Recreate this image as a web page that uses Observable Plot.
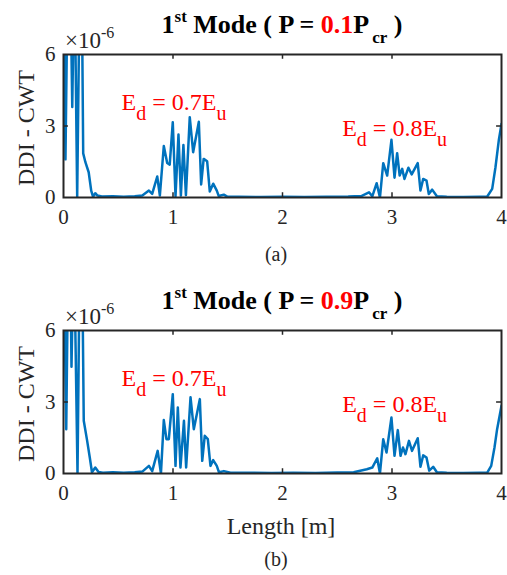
<!DOCTYPE html>
<html>
<head>
<meta charset="utf-8">
<script src="https://cdn.jsdelivr.net/npm/d3@7"></script>
<script src="https://cdn.jsdelivr.net/npm/@observablehq/plot@0.6"></script>
<style>
  html, body { margin: 0; padding: 0; background: #fff; overflow: hidden; }
  #root { position: relative; width: 507px; height: 575px; background: #fff;
          font-family: "Liberation Serif", "Times New Roman", serif; color: #262626; }
  .abs { position: absolute; line-height: 1; white-space: nowrap; }
  .center { text-align: center; width: 400px; }
  .title { font-size: 26px; font-weight: bold; color: #000; }
  .sup { position: relative; font-size: 17px; top: -11px; }
  .sub { position: relative; font-size: 17px; top: 10px; margin-left: 3px; }
  .exp { position: relative; font-size: 16px; top: -10px; }
  .ylab { font-size: 24px; width: 200px; height: 24px; text-align: center; transform: rotate(-90deg); }
  .panel { position: absolute; left: 0; }
  .panel svg, .panel svg text { font-family: "Liberation Serif", "Times New Roman", serif; }
</style>
</head>
<body>
<div id="root">
  <div class="abs center title" style="left:82px; top:12.2px;">1<span class="sup">st</span> Mode ( P = <span style="color:#ff0000">0.1</span>P<span class="sub">cr</span> )</div>
  <div class="abs center title" style="left:82px; top:288.2px;">1<span class="sup">st</span> Mode ( P = <span style="color:#ff0000">0.9</span>P<span class="sub">cr</span> )</div>
  <div class="abs" style="left:65px; top:28.7px; font-size:23px;">×10<span class="exp">-6</span></div>
  <div class="abs" style="left:65px; top:304.7px; font-size:23px;">×10<span class="exp">-6</span></div>
  <div class="abs ylab" style="left:-74px; top:115.5px;">DDI - CWT</div>
  <div class="abs ylab" style="left:-74px; top:391.5px;">DDI - CWT</div>
  <div class="abs center" style="left:76px; top:244.3px; font-size:20px;">(a)</div>
  <div class="abs center" style="left:81px; top:513.9px; font-size:24px;">Length [m]</div>
  <div class="abs center" style="left:76px; top:549.3px; font-size:20px;">(b)</div>
  <div id="pa" class="panel" style="top:40px;"></div>
  <div id="pb" class="panel" style="top:316px;"></div>
</div>
<script>
// ---- data (DDI-CWT values in units of 1e-6; values above 6 are clipped by the axis) ----
const xTicks = [0, 1, 2, 3, 4];
const yTicks = [0, 3, 6];
const innerXTicks = [1, 2, 3];
const innerYTicks = [3];

// Panel (a): P = 0.1 Pcr, [length m, DDI]
const ddiA = [
  [0,10],[0.018,1.6],[0.04,10],[0.06,10],[0.08,3.8],[0.10,10],[0.125,0],[0.15,10],[0.165,10],
  [0.18,1.85],[0.2,1.48],[0.23,1.06],[0.253,0.29],[0.27,0.03],[0.29,0.18],[0.31,0.08],[0.35,0.04],
  [0.45,0.05],[0.55,0.03],[0.65,0.05],[0.72,0.08],[0.78,0.29],[0.81,0.15],[0.856,0.88],[0.88,0.08],
  [0.916,2.16],[0.947,1.45],[0.97,1.38],[0.998,3.16],[1.023,0.05],[1.05,2.64],[1.072,0.08],
  [1.095,2.2],[1.118,0.1],[1.153,3.37],[1.184,1.9],[1.236,3.18],[1.257,0.55],[1.28,1.62],
  [1.312,1.52],[1.336,0.25],[1.367,0.58],[1.40,0.29],[1.418,0.06],[1.464,0.12],[1.495,0.04],
  [1.6,0.03],[1.8,0.02],[2.0,0.03],[2.2,0.02],[2.4,0.03],[2.6,0.04],[2.72,0.06],[2.79,0.22],
  [2.82,0.05],[2.86,0.6],[2.89,0.0],[2.92,1.44],[2.956,0.92],[2.995,2.42],[3.023,0.83],
  [3.047,1.86],[3.07,0.92],[3.093,1.2],[3.114,0.78],[3.15,1.25],[3.18,0.97],[3.235,1.44],
  [3.26,0.29],[3.285,0.78],[3.315,0.71],[3.336,0.15],[3.367,0.33],[3.41,0.05],[3.5,0.03],
  [3.65,0.02],[3.8,0.03],[3.87,0.04],[3.915,0.36],[3.945,1.27],[3.975,2.39],[4.0,3.09]
];

// Panel (b): P = 0.9 Pcr, [length m, DDI]
const ddiB = [
  [0,10],[0.025,1.86],[0.045,10],[0.06,10],[0.073,4.48],[0.095,10],[0.128,0],[0.15,10],[0.168,10],
  [0.185,2.21],[0.215,1.4],[0.24,0.67],[0.26,0.05],[0.29,0.25],[0.32,0.06],[0.36,0.03],
  [0.45,0.05],[0.55,0.03],[0.65,0.05],[0.72,0.08],[0.78,0.32],[0.81,0.1],[0.86,0.95],[0.89,0],
  [0.916,2.24],[0.94,1.44],[0.962,1.44],[0.998,3.33],[1.023,0.32],[1.044,2.77],[1.068,0.25],
  [1.1,2.21],[1.12,0.25],[1.16,3.2],[1.19,1.86],[1.245,3.12],[1.267,0.53],[1.29,1.58],
  [1.318,1.44],[1.342,0.32],[1.367,0.56],[1.4,0.32],[1.42,0.05],[1.465,0.1],[1.525,0.03],
  [1.7,0.03],[1.9,0.02],[2.1,0.03],[2.3,0.02],[2.5,0.04],[2.65,0.05],[2.77,0.18],[2.82,0.25],
  [2.865,0.64],[2.89,0],[2.92,1.44],[2.95,0.88],[2.995,2.35],[3.023,0.74],[3.053,1.82],
  [3.078,0.74],[3.1,1.09],[3.123,0.81],[3.155,1.37],[3.183,0.95],[3.235,1.48],[3.26,0.28],
  [3.285,0.76],[3.315,0.67],[3.34,0.12],[3.376,0.28],[3.41,0.05],[3.5,0.03],[3.65,0.02],
  [3.8,0.03],[3.87,0.04],[3.906,0.32],[3.936,1.09],[3.96,1.86],[4.0,2.84]
];

// Damage annotations
const annotLabels = ["E_d = 0.7E_u", "E_d = 0.8E_u"];
const annotX = [0.53, 2.545];
const annotY = [3.69, 2.6];
const annots = annotLabels.map((t, i) => ({x: annotX[i], y: annotY[i], t}));

const SERIF = "'Liberation Serif', 'Times New Roman', serif";
const NS = "http://www.w3.org/2000/svg";
function richify(svg) {
  svg.querySelectorAll("text").forEach(t => {
    t.style.fontFamily = SERIF;
    const s = t.textContent;
    if (!s.includes("_")) return;
    t.textContent = "";
    const parts = s.split(/_(\w)/);
    parts.forEach((p, i) => {
      if (!p) return;
      const ts = document.createElementNS(NS, "tspan");
      ts.textContent = p;
      if (i % 2 === 1) { ts.setAttribute("dy", 10); ts.setAttribute("font-size", 20); }
      else if (i > 0) ts.setAttribute("dy", -10);
      t.appendChild(ts);
    });
  });
}

function panel(data) {
  const axisColor = "#262626";
  const svg = Plot.plot({
    width: 507, height: 190,
    marginTop: 14, marginBottom: 33, marginLeft: 63, marginRight: 6,
    x: {domain: [0, 4], ticks: xTicks, tickFormat: d => String(d), tickSize: 0, tickPadding: 12, label: null},
    y: {domain: [0, 6], ticks: yTicks, tickFormat: d => String(d), tickSize: 0, tickPadding: 8, label: null},
    style: {fontSize: "21px", color: axisColor, background: "transparent", overflow: "visible"},
    marks: [
      Plot.line(data, {x: d => d[0], y: d => d[1], stroke: "#0072BD", strokeWidth: 2.5, clip: true}),
      Plot.text(annots, {x: "x", y: "y", text: "t", fill: "#ff0000", fontSize: 24, fontFamily: SERIF,
                         textAnchor: "start", lineAnchor: "bottom"}),
      Plot.ruleX(innerXTicks, {y1: 0, y2: 0.2, stroke: axisColor, strokeWidth: 1.5}),
      Plot.ruleX(innerXTicks, {y1: 5.8, y2: 6, stroke: axisColor, strokeWidth: 1.5}),
      Plot.ruleY(innerYTicks, {x1: 0, x2: 0.045, stroke: axisColor, strokeWidth: 1.5}),
      Plot.ruleY(innerYTicks, {x1: 3.955, x2: 4, stroke: axisColor, strokeWidth: 1.5}),
      Plot.frame({stroke: axisColor, strokeWidth: 2})
    ]
  });
  svg.style.fontFamily = SERIF;
  svg.setAttribute("font-family", SERIF);
  richify(svg);
  return svg;
}

document.getElementById("pa").appendChild(panel(ddiA));
document.getElementById("pb").appendChild(panel(ddiB));
</script>
</body>
</html>
